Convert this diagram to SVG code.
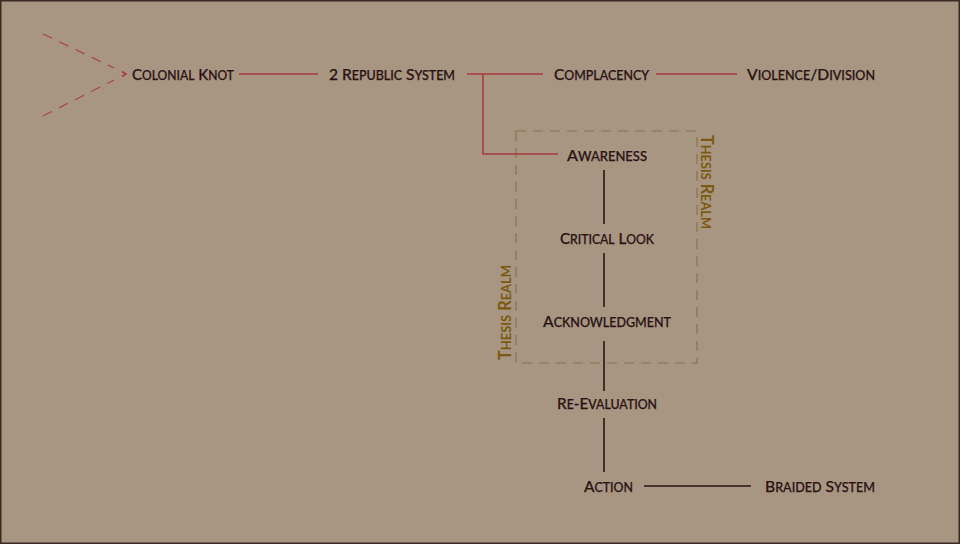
<svg xmlns="http://www.w3.org/2000/svg" width="960" height="544" viewBox="0 0 960 544">
  <style>
    .lbl { font-family: Lato, "Open Sans", sans-serif; font-size: 16.2px; font-weight: 500; font-variant: small-caps; fill: #2a1313; stroke: #2a1313; stroke-width: 0.25; }
    .lbl .s { font-size: 18.2px; }
    .realm { font-family: Lato, "Open Sans", sans-serif; font-size: 16.5px; font-weight: bold; font-variant: small-caps; fill: #7a5a10; }
    .realm .s { font-size: 18.5px; }
    .red { stroke: #a83a3c; stroke-width: 1.5; fill: none; }
    .blk { stroke: #2b1515; stroke-width: 1.6; fill: none; }
    .dash { stroke: #a8464a; stroke-width: 1.2; fill: none; stroke-dasharray: 10 8; }
    .box { stroke: #8a7350; stroke-width: 1.2; fill: none; stroke-dasharray: 10 7; }
  </style>
  <rect x="0.75" y="0.75" width="958.5" height="542.5" fill="#a89582" stroke="#3a2a22" stroke-width="1.5"/>
  <g id="realm-box">
    <rect class="box" x="516" y="131" width="181" height="232"/>
    <text class="realm" transform="translate(701,135) rotate(90)" textLength="94" lengthAdjust="spacingAndGlyphs">T<tspan class="s">hesis</tspan> R<tspan class="s">ealm</tspan></text>
    <text class="realm" transform="translate(511,360) rotate(-90)" textLength="95" lengthAdjust="spacingAndGlyphs">T<tspan class="s">hesis</tspan> R<tspan class="s">ealm</tspan></text>
  </g>
  <g id="connectors">
    <line class="dash" x1="43" y1="34" x2="114" y2="68"/>
    <line class="dash" x1="43" y1="116" x2="114" y2="80"/>
    <polyline class="red" stroke-width="1" points="122,71.5 126,74 122,76.5"/>
    <line class="red" x1="239" y1="74" x2="318" y2="74"/>
    <line class="red" x1="467" y1="74" x2="543" y2="74"/>
    <line class="red" x1="656" y1="74" x2="737" y2="74"/>
    <polyline class="red" points="483,74 483,154 558,154"/>
    <line class="blk" x1="604" y1="170" x2="604" y2="224"/>
    <line class="blk" x1="604" y1="253" x2="604" y2="307"/>
    <line class="blk" x1="604" y1="341" x2="604" y2="391"/>
    <line class="blk" x1="604" y1="418" x2="604" y2="472"/>
    <line class="blk" x1="644" y1="486" x2="751" y2="486"/>
  </g>
  <g id="colonial-knot"><text class="lbl" x="132" y="79.5" textLength="102" lengthAdjust="spacingAndGlyphs">C<tspan class="s">olonial</tspan> K<tspan class="s">not</tspan></text></g>
  <g id="republic-system"><text class="lbl" x="329" y="79.5" textLength="126" lengthAdjust="spacingAndGlyphs">2 R<tspan class="s">epublic</tspan> S<tspan class="s">ystem</tspan></text></g>
  <g id="complacency"><text class="lbl" x="554" y="79.5" textLength="95" lengthAdjust="spacingAndGlyphs">C<tspan class="s">omplacency</tspan></text></g>
  <g id="violence-division"><text class="lbl" x="747" y="79.5" textLength="128" lengthAdjust="spacingAndGlyphs">V<tspan class="s">iolence</tspan>/D<tspan class="s">ivision</tspan></text></g>
  <g id="awareness"><text class="lbl" x="567" y="160.7" textLength="80" lengthAdjust="spacingAndGlyphs">A<tspan class="s">wareness</tspan></text></g>
  <g id="critical-look"><text class="lbl" x="560" y="244.3" textLength="94" lengthAdjust="spacingAndGlyphs">C<tspan class="s">ritical</tspan> L<tspan class="s">ook</tspan></text></g>
  <g id="acknowledgment"><text class="lbl" x="543" y="326.5" textLength="128" lengthAdjust="spacingAndGlyphs">A<tspan class="s">cknowledgment</tspan></text></g>
  <g id="re-evaluation"><text class="lbl" x="557" y="409" textLength="100" lengthAdjust="spacingAndGlyphs">R<tspan class="s">e</tspan>-E<tspan class="s">valuation</tspan></text></g>
  <g id="action"><text class="lbl" x="584" y="491.5" textLength="49" lengthAdjust="spacingAndGlyphs">A<tspan class="s">ction</tspan></text></g>
  <g id="braided-system"><text class="lbl" x="765" y="491.5" textLength="110" lengthAdjust="spacingAndGlyphs">B<tspan class="s">raided</tspan> S<tspan class="s">ystem</tspan></text></g>
</svg>
